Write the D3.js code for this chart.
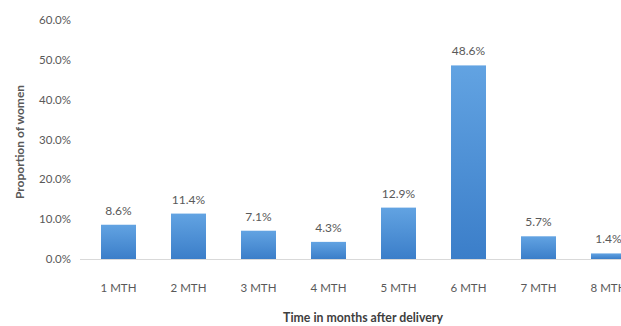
<!DOCTYPE html>
<html>
<head>
<meta charset="utf-8">
<script src="https://cdn.jsdelivr.net/npm/d3@7"></script>
<style>
  body { margin: 0; background: #fff; }
  svg { display: block; font-family: Lato, "Open Sans", sans-serif; }
</style>
</head>
<body>
<div id="chart"></div>
<script>
var categories = ['1 MTH', '2 MTH', '3 MTH', '4 MTH', '5 MTH', '6 MTH', '7 MTH', '8 MTH']
var values = [8.6, 11.4, 7.1, 4.3, 12.9, 48.6, 5.7, 1.4]
var yTicks = [0, 10, 20, 30, 40, 50, 60]

var width = 621
var height = 326

var svg = d3.select('#chart')
  .append('svg')
  .attr('width', width)
  .attr('height', height)

var defs = svg.append('defs')
var grad = defs.append('linearGradient')
  .attr('id', 'barFill')
  .attr('x1', 0).attr('y1', 0).attr('x2', 0).attr('y2', 1)
grad.append('stop').attr('offset', '0%').attr('stop-color', '#62a3e2')
grad.append('stop').attr('offset', '100%').attr('stop-color', '#3b7ec9')

var x = d3.scaleBand()
  .domain(categories)
  .range([83.5, 643.5])
  .paddingInner(0.5)
  .paddingOuter(0.25)

var y = d3.scaleLinear()
  .domain([0, 60])
  .range([259, 20])

// y tick labels
svg.append('g')
  .selectAll('text')
  .data(yTicks)
  .enter()
  .append('text')
  .attr('x', 71)
  .attr('y', function(d) { return y(d) })
  .attr('dy', '0.35em')
  .attr('text-anchor', 'end')
  .attr('font-size', 11.5)
  .attr('fill', '#595959')
  .text(function(d) { return d3.format('.1f')(d) + '%' })

// bars
svg.append('g')
  .selectAll('rect')
  .data(values)
  .enter()
  .append('rect')
  .attr('x', function(d, i) { return x(categories[i]) })
  .attr('y', function(d) { return y(d) })
  .attr('width', x.bandwidth())
  .attr('height', function(d) { return y(0) - y(d) })
  .attr('fill', 'url(#barFill)')

// baseline
svg.append('line')
  .attr('x1', 80)
  .attr('x2', width)
  .attr('y1', y(0) + 0.5)
  .attr('y2', y(0) + 0.5)
  .attr('stroke', '#d9d9d9')

// value labels
svg.append('g')
  .selectAll('text')
  .data(values)
  .enter()
  .append('text')
  .attr('x', function(d, i) { return x(categories[i]) + x.bandwidth() / 2 })
  .attr('y', function(d) { return y(d) - 10 })
  .attr('text-anchor', 'middle')
  .attr('font-size', 12)
  .attr('fill', '#595959')
  .text(function(d) { return d3.format('.1f')(d) + '%' })

// category labels
svg.append('g')
  .selectAll('text')
  .data(categories)
  .enter()
  .append('text')
  .attr('x', function(d) { return x(d) + x.bandwidth() / 2 })
  .attr('y', 292)
  .attr('text-anchor', 'middle')
  .attr('font-size', 11.5)
  .attr('fill', '#595959')
  .text(function(d) { return d })

// axis titles
svg.append('text')
  .attr('x', 363)
  .attr('y', 322)
  .attr('text-anchor', 'middle')
  .attr('font-size', 12.3)
  .attr('font-weight', 'bold')
  .attr('fill', '#404040')
  .text('Time in months after delivery')

svg.append('text')
  .attr('transform', 'translate(24,142) rotate(-90)')
  .attr('text-anchor', 'middle')
  .attr('font-size', 12)
  .attr('font-weight', 'bold')
  .attr('fill', '#595959')
  .text('Proportion of women')
</script>
</body>
</html>
